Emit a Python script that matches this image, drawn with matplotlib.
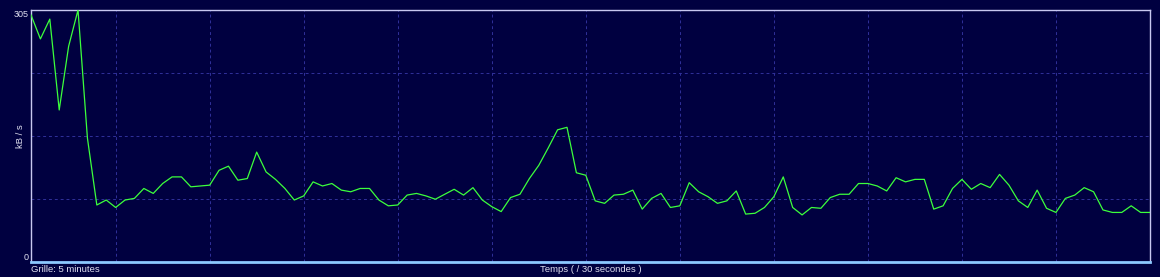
import matplotlib.pyplot as plt

# kB/s samples, one every 30 s
debit = [299, 270, 294, 184, 261, 305, 150, 69, 75, 66,
         75, 77, 89, 83, 95, 103, 103, 91, 92, 93,
         111, 116, 99, 101, 133, 109, 100, 89, 75, 80,
         97, 92, 95, 87, 85, 89, 89, 75, 68, 69,
         81, 83, 80, 76, 82, 88, 81, 90, 75, 67,
         61, 78, 82, 101, 117, 138, 160, 163, 108, 105,
         74, 71, 81, 82, 87, 64, 77, 83, 66, 68,
         96, 85, 79, 71, 74, 86, 58, 59, 66, 79,
         103, 66, 57, 66, 65, 78, 82, 82, 95, 95,
         92, 86, 102, 97, 100, 100, 64, 68, 89, 100,
         88, 95, 90, 106, 93, 74, 66, 87, 65, 60,
         77, 81, 90, 85, 63, 60, 60, 68, 60, 60]
ymax = 305
grid_every = 10  # 5 minutes = 10 samples

bg = "#000040"
fg = "#e0e0f0"
gridc = "#30309a"

fig = plt.figure(figsize=(11.6, 2.77), dpi=100, facecolor=bg)
ax = fig.add_axes([31/1160, 15/277, 1119/1160, 252/277], facecolor=bg)

x = list(range(len(debit)))
ax.set_xlim(0, len(debit) - 1)
ax.set_ylim(0, ymax)

for k in range(9, len(debit), grid_every):
    ax.axvline(k, color=gridc, lw=0.7, ls=(0, (3, 3)), zorder=1)
for q in (1, 2, 3):
    ax.axhline(ymax * q / 4, color=gridc, lw=0.7, ls=(0, (3, 3)), zorder=1)

ax.plot(x, debit, color="#3cff3c", lw=0.9, zorder=3)

for side in ("top", "left", "right"):
    ax.spines[side].set_color("#c8c8f0")
    ax.spines[side].set_linewidth(1.0)
ax.spines["bottom"].set_color("#8cc8ff")
ax.spines["bottom"].set_linewidth(2.0)

ax.set_xticks([])
ax.set_yticks([0, ymax])
ax.set_yticklabels(["0", "305"])
ax.tick_params(axis="y", length=0, pad=2, labelsize=6.5, labelcolor=fg)
labs = ax.get_yticklabels()
labs[0].set_va("bottom")
labs[1].set_va("top")
for t in labs:
    t.set_family("Liberation Sans")

ax.text(-0.009, 0.5, "kB / s", transform=ax.transAxes, rotation=90,
        ha="center", va="center", color=fg, fontsize=6.8, family="Liberation Sans")
ax.text(0.0, -0.012, "Grille: 5 minutes", transform=ax.transAxes,
        ha="left", va="top", color=fg, fontsize=6.8, family="Liberation Sans")
ax.text(0.5, -0.012, "Temps ( / 30 secondes )", transform=ax.transAxes,
        ha="center", va="top", color=fg, fontsize=6.8, family="Liberation Sans")

fig.savefig("out.png", dpi=100, facecolor=bg)
